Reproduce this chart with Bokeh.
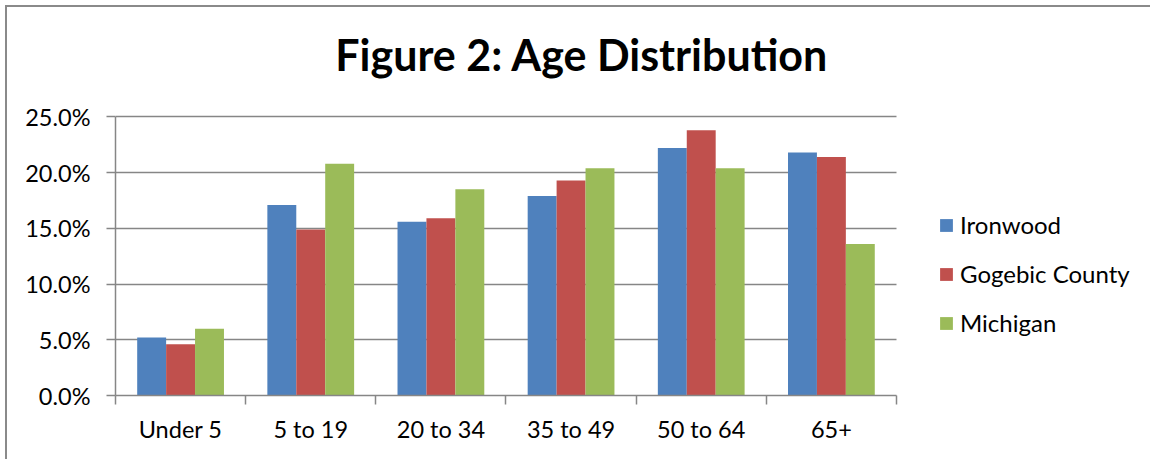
from bokeh.plotting import figure
from bokeh.models import (ColumnDataSource, Range1d, FixedTicker, NumeralTickFormatter,
                          Label, Legend, LegendItem)
from bokeh.transform import dodge
from bokeh.embed import file_html
from bokeh.resources import INLINE

categories = ["Under 5", "5 to 19", "20 to 34", "35 to 49", "50 to 64", "65+"]
series_names = ["Ironwood", "Gogebic County", "Michigan"]
ironwood = [0.052, 0.171, 0.156, 0.179, 0.222, 0.218]
gogebic = [0.046, 0.149, 0.159, 0.193, 0.238, 0.214]
michigan = [0.060, 0.208, 0.185, 0.204, 0.204, 0.136]
y_ticks = [0.0, 0.05, 0.10, 0.15, 0.20, 0.25]
title_text = "Figure 2: Age Distribution"

colors = ["#4F81BD", "#C0504D", "#9BBB59"]
FONT = "Lato"
GRAY = "#868686"

n = len(categories)
y_max = y_ticks[-1]
centers = [i + 0.5 for i in range(n)]
source = ColumnDataSource(dict(x=centers, cat=categories,
                               Ironwood=ironwood, Gogebic=gogebic, Michigan=michigan))

# The frame also covers the title and legend area; the data area is 0..6 x 0..25%
# and axes/grid are bounded to it.
p = figure(width=1145, height=454,
           x_range=Range1d(0, 7.967), y_range=Range1d(0, 0.3482),
           output_backend="svg", toolbar_location=None,
           min_border_left=108, min_border_right=0,
           min_border_top=0, min_border_bottom=66)
p.styles = {"margin-left": "5px", "margin-top": "5px",
            "border-left": "2px solid #8a8a8a", "border-top": "2px solid #8a8a8a"}
p.outline_line_color = None
p.background_fill_color = "white"
p.border_fill_color = "white"
p.title.text = ""
p.title.visible = False

bw = 1 / 4.5
cols = ["Ironwood", "Gogebic", "Michigan"]
offsets = [-bw, 0.0, bw]
renderers = []
for col, off, c in zip(cols, offsets, colors):
    r = p.vbar(x=dodge("x", off, range=p.x_range), top=col, width=bw, bottom=0,
               source=source, fill_color=c, line_color=None)
    renderers.append(r)

# axes
xa = p.xaxis[0]
xa.bounds = (0, n)
xa.ticker = FixedTicker(ticks=centers, minor_ticks=list(range(n + 1)))
xa.major_label_overrides = {c: lab for c, lab in zip(centers, categories)}
xa.major_tick_line_color = None
xa.major_tick_out = 0
xa.major_tick_in = 0
xa.minor_tick_line_color = GRAY
xa.minor_tick_line_width = 1.5
xa.minor_tick_out = 9
xa.minor_tick_in = 0
xa.axis_line_color = GRAY
xa.axis_line_width = 1.5
xa.major_label_text_font = FONT
xa.major_label_text_font_size = "23.5px"
xa.major_label_text_color = "black"
xa.major_label_standoff = 10

ya = p.yaxis[0]
ya.bounds = (0, y_max)
ya.ticker = FixedTicker(ticks=y_ticks, minor_ticks=[])
ya.formatter = NumeralTickFormatter(format="0.0%")
ya.major_tick_line_color = GRAY
ya.major_tick_line_width = 1.5
ya.major_tick_out = 9
ya.major_tick_in = 0
ya.minor_tick_line_color = None
ya.axis_line_color = GRAY
ya.axis_line_width = 1.5
ya.major_label_text_font = FONT
ya.major_label_text_font_size = "23.5px"
ya.major_label_text_color = "black"
ya.major_label_standoff = 16

p.xgrid.grid_line_color = None
yg = p.ygrid[0]
if "cross_bounds" in yg.properties():
    yg.ticker = FixedTicker(ticks=y_ticks)
    yg.bounds = (0, y_max)
    yg.cross_bounds = (0, n)
    yg.grid_line_color = GRAY
    yg.grid_line_width = 1.3
else:
    yg.grid_line_color = None
    p.segment(x0=[0] * len(y_ticks), x1=[n] * len(y_ticks), y0=y_ticks, y1=y_ticks,
              line_color=GRAY, line_width=1.3, level="underlay")

# title (screen units are relative to the frame's bottom-left)
p.add_layout(Label(x=466.5, y=341, x_units="screen", y_units="screen", text=title_text,
                   text_font=FONT, text_font_size="43px", text_font_style="bold",
                   text_align="center", text_baseline="alphabetic", text_color="black"))

legend = Legend(items=[LegendItem(label=s, renderers=[r]) for s, r in zip(series_names, renderers)],
                location=(823, 58), orientation="vertical",
                glyph_width=16, glyph_height=16, label_standoff=6, spacing=20,
                padding=0, margin=0, border_line_color=None, background_fill_alpha=0,
                label_text_font=FONT, label_text_font_size="24px", label_text_color="black")
p.add_layout(legend)

open("out.html", "w").write(file_html(p, INLINE))
